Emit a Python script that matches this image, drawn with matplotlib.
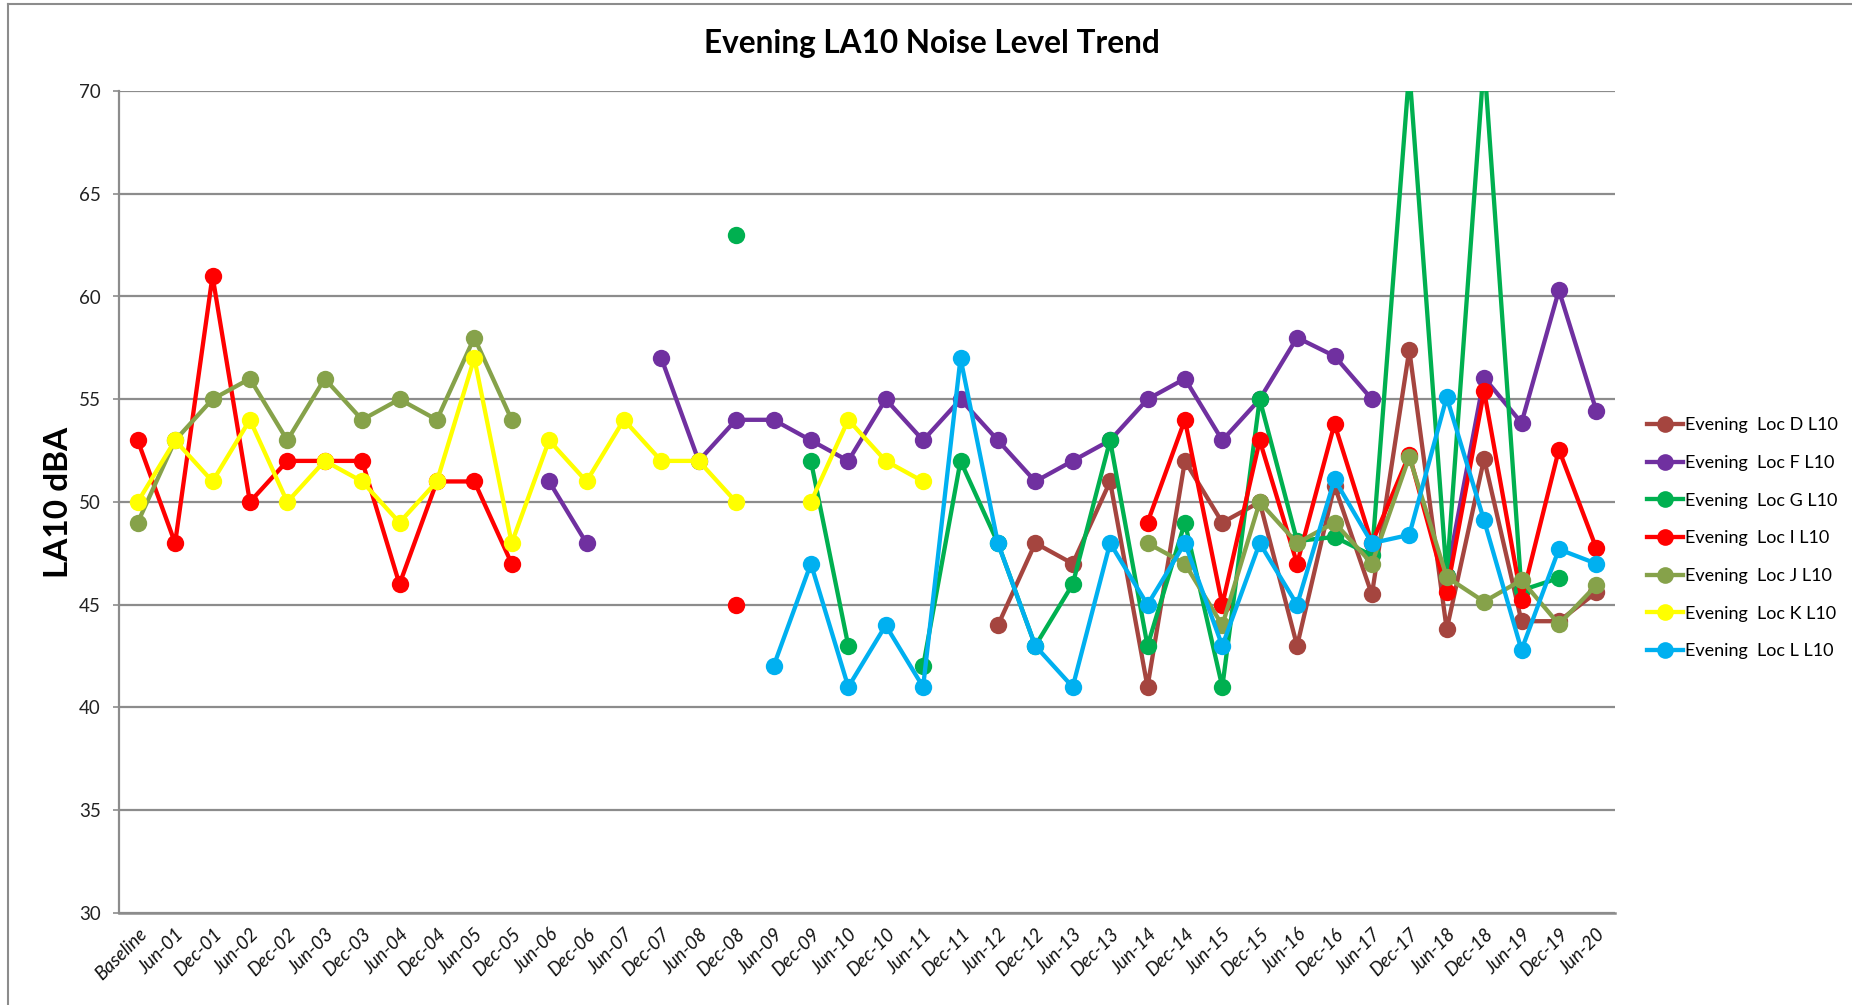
import numpy as np
import matplotlib
matplotlib.use("Agg")
import matplotlib.pyplot as plt
from matplotlib.lines import Line2D

nan = np.nan

categories = ["Baseline", "Jun-01", "Dec-01", "Jun-02", "Dec-02", "Jun-03", "Dec-03", "Jun-04",
              "Dec-04", "Jun-05", "Dec-05", "Jun-06", "Dec-06", "Jun-07", "Dec-07", "Jun-08",
              "Dec-08", "Jun-09", "Dec-09", "Jun-10", "Dec-10", "Jun-11", "Dec-11", "Jun-12",
              "Dec-12", "Jun-13", "Dec-13", "Jun-14", "Dec-14", "Jun-15", "Dec-15", "Jun-16",
              "Dec-16", "Jun-17", "Dec-17", "Jun-18", "Dec-18", "Jun-19", "Dec-19", "Jun-20"]

loc_d = [nan] * 23 + [44, 48, 47, 51, 41, 52, 49, 50, 43, 50.8, 45.5, 57.4, 43.8, 52.1, 44.2, 44.2, 45.6]
loc_f = [nan] * 11 + [51, 48, nan, 57, 52, 54, 54, 53, 52, 55, 53, 55, 53, 51, 52, 53, 55, 56, 53,
                      55, 58, 57.1, 55, nan, 46.4, 56.05, 53.85, 60.3, 54.45]
loc_g = [nan] * 16 + [63, nan, 52, 43, nan, 42, 52, 48, 43, 46, 53, 43, 49, 41, 55, 48.1, 48.3, 47.4,
                      71, 46.4, 71.5, 45.7, 46.3, nan]
loc_i = [53, 48, 61, 50, 52, 52, 52, 46, 51, 51, 47, nan, nan, nan, nan, nan, 45, nan, nan, nan,
         nan, nan, nan, nan, nan, nan, nan, 49, 54, 45, 53, 47, 53.8, 48, 52.3, 45.6, 55.4, 45.25,
         52.55, 47.75]
loc_j = [49, 53, 55, 56, 53, 56, 54, 55, 54, 58, 54] + [nan] * 16 + [48, 47, 44, 50, 48, 49, 47, 52.2,
                                                                 46.35, 45.15, 46.2, 44.05, 45.95]
loc_k = [50, 53, 51, 54, 50, 52, 51, 49, 51, 57, 48, 53, 51, 54, 52, 52, 50, nan, 50, 54, 52, 51] + [nan] * 18
loc_l = [nan] * 17 + [42, 47, 41, 44, 41, 57, 48, 43, 41, 48, 45, 48, 43, 48, 45, 51.1, 48, 48.4,
                      55.1, 49.1, 42.8, 47.7, 47.0]

series_names = ["Evening  Loc D L10", "Evening  Loc F L10", "Evening  Loc G L10",
                "Evening  Loc I L10", "Evening  Loc J L10", "Evening  Loc K L10",
                "Evening  Loc L L10"]
series_values = [loc_d, loc_f, loc_g, loc_i, loc_j, loc_k, loc_l]
series_colors = ["#A5453F", "#7030A0", "#00B050", "#FF0000", "#86A24A", "#FFFF00", "#00B0F0"]

yticks = [30, 35, 40, 45, 50, 55, 60, 65, 70]

plt.rcParams['font.family'] = ['Lato', 'DejaVu Sans']

W, H = 1852, 1005
fig = plt.figure(figsize=(W / 100, H / 100), dpi=100)
ax = fig.add_axes([119 / W, 1 - 913 / H, (1615 - 119) / W, (913 - 91) / H])

x = np.arange(len(categories))
for name, vals, col in zip(series_names, series_values, series_colors):
    ax.plot(x, np.array(vals, dtype=float), color=col, lw=3.1, marker='o', ms=12.5,
            markeredgewidth=0, label=name, solid_joinstyle='round')

ax.set_xlim(-0.5, len(categories) - 0.5)
ax.set_ylim(30, 70)
ax.set_yticks(yticks)
ax.set_yticklabels([str(v) for v in yticks], fontsize=13.5, color='#222222')
ax.yaxis.grid(True, color='#8C8C8C', lw=1.6)
ax.set_axisbelow(True)
ax.tick_params(axis='y', length=4, color='#8C8C8C', width=1.2, pad=9)
ax.tick_params(axis='x', length=0, pad=9)
ax.set_xticks(x)
ax.set_xticklabels(categories, rotation=45, ha='right', rotation_mode='anchor',
                   fontsize=13.5, style='italic', color='#111111')
for s in ['top', 'right']:
    ax.spines[s].set_visible(False)
ax.spines['left'].set_color('#8C8C8C')
ax.spines['left'].set_linewidth(1.6)
ax.spines['bottom'].set_color('#8C8C8C')
ax.spines['bottom'].set_linewidth(1.8)

ax.set_ylabel("LA10 dBA", fontsize=24, fontweight='bold')
ax.yaxis.set_label_coords(-0.031, 0.5)

fig.text(932 / W, 1 - 44 / H, "Evening LA10 Noise Level Trend", ha='center', va='center',
         fontsize=22.7, fontweight='bold')

handles = [Line2D([0], [0], color=c, lw=3.1, marker='o', ms=12, markeredgewidth=0)
           for c in series_colors]
leg = fig.legend(handles, series_names, loc='upper left',
                 bbox_to_anchor=(1640 / W, 1 - 410 / H), frameon=False, fontsize=13,
                 handlelength=2.0, handletextpad=0.1, labelspacing=1.2, borderaxespad=0)

# chart area border (left and top visible)
fig.add_artist(Line2D([8 / W, 8 / W], [0, 1 - 4 / H], color='#8C8C8C', lw=1.5,
                      transform=fig.transFigure))
fig.add_artist(Line2D([8 / W, 1], [1 - 4 / H, 1 - 4 / H], color='#8C8C8C', lw=1.5,
                      transform=fig.transFigure))

fig.savefig("out.png", dpi=100)
